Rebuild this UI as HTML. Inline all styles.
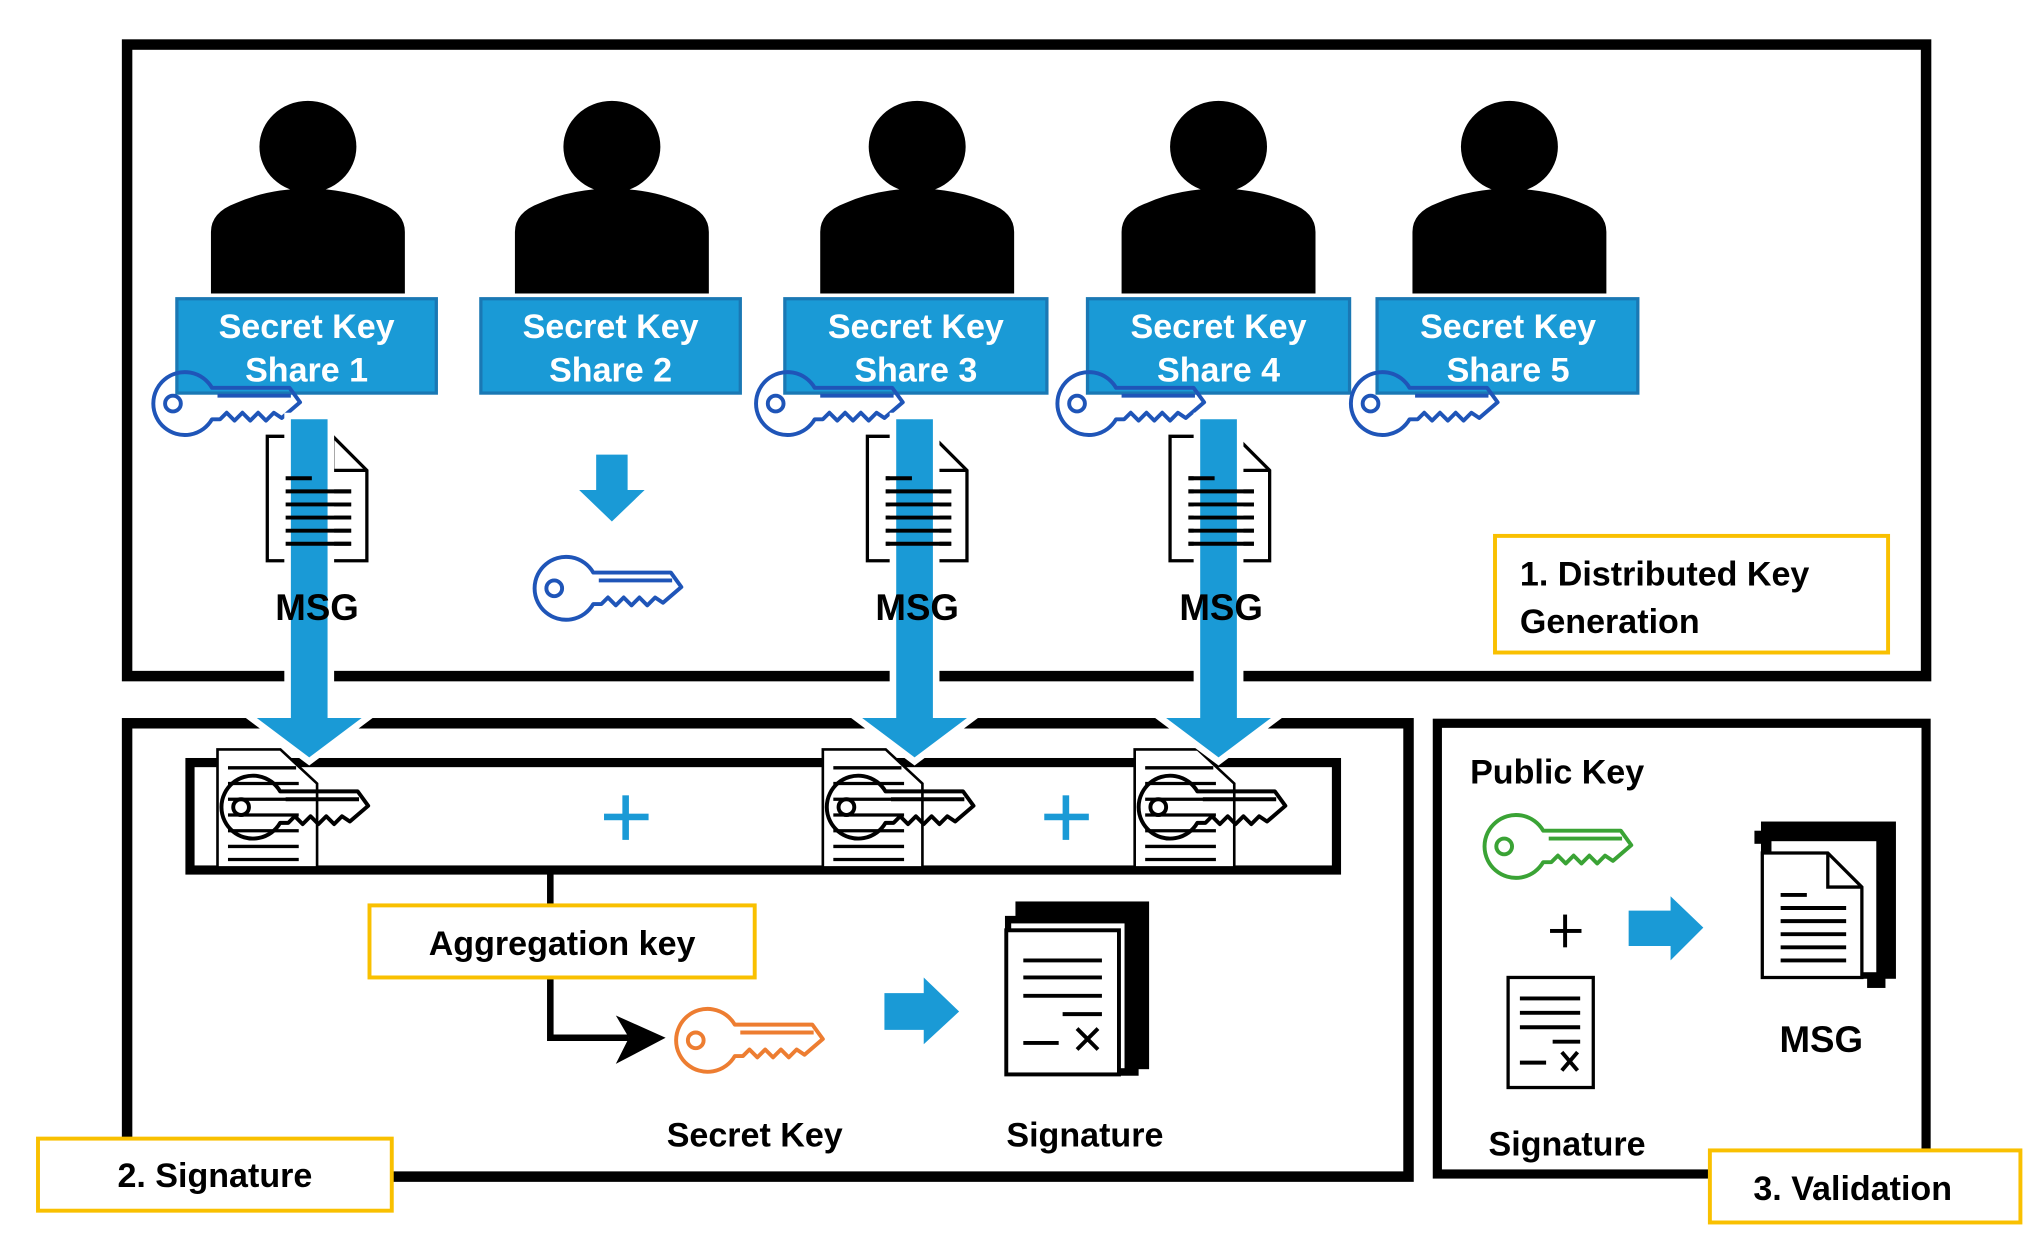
<!DOCTYPE html>
<html><head><meta charset="utf-8"><style>
html,body{margin:0;padding:0;background:#fff;}
svg{display:block;}
text{font-family:"Liberation Sans",sans-serif;font-weight:bold;}
</style></head><body>
<svg width="2044" height="1250" viewBox="0 0 1560 954" xmlns="http://www.w3.org/2000/svg">
<defs>
<g id="key" fill="none" stroke-width="3" stroke-linejoin="round">
 <path d="M45.8,14 A24,24 0 1 0 45.8,38 L52,38 L57,33 L63,39 L69,33 L75,39 L81,33 L87,39 L93,33 L99,37 L113,25 L105,14 Z"/>
 <circle cx="16" cy="26" r="6"/>
 <path d="M50,20 L106,20"/>
</g>
<g id="person" fill="#000">
 <ellipse cx="0" cy="0" rx="37" ry="35"/>
 <path d="M-74,112 L-74,65 Q-74,50 -55,43 Q-30,32 0,32 Q30,32 55,43 Q74,50 74,65 L74,112 Z"/>
</g>
<g id="doclines" stroke="#000" stroke-width="3"><line x1="14" y1="32" x2="34" y2="32"/><line x1="14" y1="42" x2="64" y2="42"/><line x1="14" y1="52" x2="64" y2="52"/><line x1="14" y1="62" x2="64" y2="62"/><line x1="14" y1="72" x2="64" y2="72"/><line x1="14" y1="82" x2="64" y2="82"/></g>
<g id="doc">
 <path d="M0,0 L50,0 L76,26 L76,95 L0,95 Z" fill="#fff" stroke="#000" stroke-width="2.5"/>
 <path d="M50,0 L50,26 L76,26" fill="none" stroke="#000" stroke-width="2.5"/>
 <use href="#doclines"/>
</g>
<g id="bardoc">
 <path d="M0,0 L48,0 L76,26 L76,90 L0,90 Z" fill="#fff" stroke="#000" stroke-width="2"/>
 <g stroke="#000" stroke-width="2.5"><line x1="8" y1="14" x2="60" y2="14"/><line x1="8" y1="26" x2="62" y2="26"/><line x1="8" y1="38" x2="62" y2="38"/><line x1="8" y1="50" x2="62" y2="50"/><line x1="8" y1="62" x2="62" y2="62"/><line x1="8" y1="74" x2="62" y2="74"/><line x1="8" y1="84" x2="62" y2="84"/></g>
 <use href="#key" x="2" y="18" stroke="#000"/>
</g>
<g id="varrow"><polygon points="-14,0 14,0 14,228 40,228 0,258 -40,228 -14,228" fill="#1a9ad6" stroke="#fff" stroke-width="10" paint-order="stroke"/></g>
</defs>

<rect x="97" y="34" width="1373" height="482" fill="none" stroke="#000" stroke-width="8"/>
<use href="#person" x="235" y="112"/>
<use href="#person" x="467" y="112"/>
<use href="#person" x="700" y="112"/>
<use href="#person" x="930" y="112"/>
<use href="#person" x="1152" y="112"/>
<g fill="#1a9ad6" stroke="#1a78b4" stroke-width="2.5">
<rect x="135" y="228" width="198" height="72"/><rect x="367" y="228" width="198" height="72"/><rect x="599" y="228" width="200" height="72"/><rect x="830" y="228" width="200" height="72"/><rect x="1051" y="228" width="199" height="72"/>
</g>
<g fill="#fff" font-size="26" text-anchor="middle">
<text x="234" y="258">Secret Key</text><text x="234" y="291">Share 1</text>
<text x="466" y="258">Secret Key</text><text x="466" y="291">Share 2</text>
<text x="699" y="258">Secret Key</text><text x="699" y="291">Share 3</text>
<text x="930" y="258">Secret Key</text><text x="930" y="291">Share 4</text>
<text x="1151" y="258">Secret Key</text><text x="1151" y="291">Share 5</text>
</g>
<g stroke="#1f55b8">
<use href="#key" x="116" y="282"/><use href="#key" x="576" y="282"/><use href="#key" x="806" y="282"/><use href="#key" x="1030" y="282"/>
<use href="#key" x="407" y="423"/>
</g>
<use href="#doc" x="204" y="333"/>
<use href="#doc" x="662" y="333"/>
<use href="#doc" x="893" y="333"/>
<polygon points="455,347 479,347 479,374 492,374 467,398 442,374 455,374" fill="#1a9ad6"/>

<rect x="97" y="552" width="978" height="346" fill="none" stroke="#000" stroke-width="8"/>
<rect x="1097" y="552" width="373" height="344" fill="none" stroke="#000" stroke-width="7"/>

<rect x="145" y="582" width="875" height="82" fill="#fff" stroke="#000" stroke-width="7"/>
<use href="#bardoc" x="166" y="572"/>
<use href="#bardoc" x="628" y="572"/>
<use href="#bardoc" x="866" y="572"/>
<g fill="#1a9ad6"><rect x="461" y="621" width="34" height="5"/><rect x="475" y="607" width="5" height="34"/><rect x="797" y="621" width="34" height="5"/><rect x="811" y="607" width="5" height="34"/></g>

<use href="#varrow" x="236" y="320"/>
<use href="#varrow" x="698" y="320"/>
<use href="#varrow" x="930" y="320"/>
<use href="#doclines" x="204" y="333"/>
<use href="#doclines" x="662" y="333"/>
<use href="#doclines" x="893" y="333"/>
<g font-size="28" text-anchor="middle" fill="#000">
<text x="242" y="473">MSG</text><text x="700" y="473">MSG</text><text x="932" y="473">MSG</text>
</g>

<rect x="1141" y="409" width="300" height="89" fill="#fff" stroke="#f9c000" stroke-width="3"/>
<text x="1160" y="447" font-size="26">1. Distributed Key</text>
<text x="1160" y="483" font-size="26">Generation</text>

<path d="M420,667 L420,792 L480,792" fill="none" stroke="#000" stroke-width="5"/>
<polygon points="470,775 508,792 470,812 480,792" fill="#000"/>
<rect x="282" y="691" width="294" height="55" fill="#fff" stroke="#f9c000" stroke-width="3"/>
<text x="429" y="729" font-size="26" text-anchor="middle">Aggregation key</text>
<use href="#key" x="515" y="768" stroke="#ed7d31"/>
<polygon points="675,758 705,758 705,746 732,772 705,797 705,786 675,786" fill="#1a9ad6"/>
<rect x="775" y="688" width="102" height="128" fill="#000"/>
<rect x="767" y="699" width="102" height="122" fill="#000"/>
<rect x="771" y="704" width="88" height="112" fill="#fff" stroke="#000" stroke-width="1.5"/>
<rect x="768" y="710" width="86" height="110" fill="#fff" stroke="#000" stroke-width="3"/>
<g stroke="#000" stroke-width="3"><line x1="781" y1="733" x2="841" y2="733"/><line x1="781" y1="746" x2="841" y2="746"/><line x1="781" y1="760" x2="841" y2="760"/><line x1="811" y1="774" x2="841" y2="774"/><line x1="781" y1="796" x2="808" y2="796"/><line x1="822" y1="785" x2="838" y2="801"/><line x1="838" y1="785" x2="822" y2="801"/></g>
<g font-size="26" text-anchor="middle"><text x="576" y="875">Secret Key</text><text x="828" y="875">Signature</text></g>

<rect x="29" y="869" width="270" height="55" fill="#fff" stroke="#f9c000" stroke-width="3"/>
<text x="164" y="906" font-size="26" text-anchor="middle">2. Signature</text>

<text x="1122" y="598" font-size="26">Public Key</text>
<use href="#key" x="1132" y="620" stroke="#3aa335"/>
<g fill="#000"><rect x="1183" y="709" width="24" height="3"/><rect x="1193" y="698" width="3" height="25"/></g>
<rect x="1151" y="746" width="65" height="84" fill="#fff" stroke="#000" stroke-width="2.5"/>
<g stroke="#000" stroke-width="3"><line x1="1160" y1="762" x2="1206" y2="762"/><line x1="1160" y1="773" x2="1206" y2="773"/><line x1="1160" y1="784" x2="1206" y2="784"/><line x1="1185" y1="795" x2="1206" y2="795"/><line x1="1160" y1="811" x2="1180" y2="811"/><line x1="1192" y1="803" x2="1204" y2="817"/><line x1="1204" y1="803" x2="1192" y2="817"/></g>
<polygon points="1243,695 1275,695 1275,684 1300,708 1275,733 1275,722 1243,722" fill="#1a9ad6"/>
<rect x="1344" y="627" width="103" height="120" fill="#000"/>
<rect x="1339" y="634" width="10" height="10" fill="#000"/>
<rect x="1425" y="740" width="14" height="14" fill="#000"/>
<rect x="1352" y="642" width="80" height="100" fill="#fff"/>
<use href="#doc" x="1345" y="651"/>
<text x="1390" y="803" font-size="28" text-anchor="middle">MSG</text>
<text x="1196" y="882" font-size="26" text-anchor="middle">Signature</text>
<rect x="1305" y="878" width="237" height="55" fill="#fff" stroke="#f9c000" stroke-width="3"/>
<text x="1414" y="916" font-size="26" text-anchor="middle">3. Validation</text>
</svg>
</body></html>
